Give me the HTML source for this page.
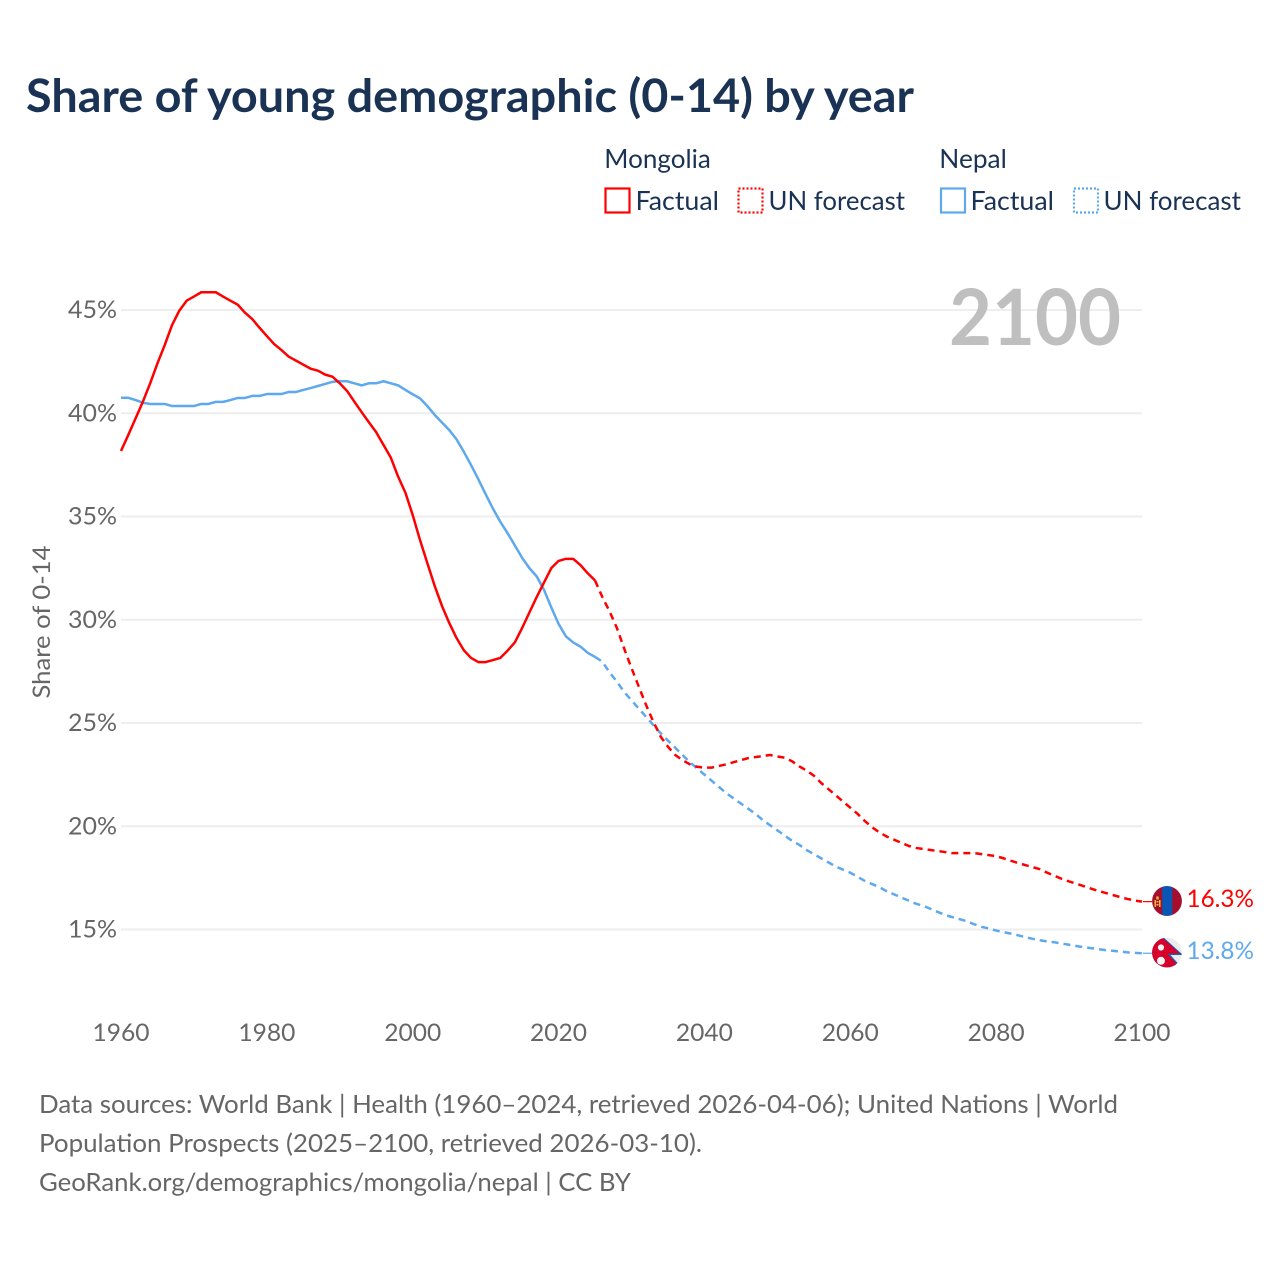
<!DOCTYPE html>
<html lang="en">
<head>
<meta charset="utf-8">
<title>Share of young demographic (0-14) by year</title>
<style>
html,body{margin:0;padding:0;background:#fff;width:1280px;height:1280px;overflow:hidden}
svg{display:block}
text{font-family:"Lato","Carlito","Liberation Sans",sans-serif}
</style>
</head>
<body>
<svg id="chart" xmlns="http://www.w3.org/2000/svg" width="1280" height="1280" viewBox="0 0 1280 1280">
  <rect width="1280" height="1280" fill="#fff"/>
  <text x="26" y="112" font-size="46" font-weight="700" fill="#1a3253" textLength="888" lengthAdjust="spacingAndGlyphs">Share of young demographic (0-14) by year</text>

  <g id="legend">
    <text x="604.3" y="168" font-size="26" fill="#1a3253" textLength="106.5" lengthAdjust="spacingAndGlyphs">Mongolia</text>
    <rect x="605.5" y="188.5" width="24" height="24" fill="none" stroke="#ff0000" stroke-width="2.2"/>
    <text x="635.5" y="210" font-size="26" fill="#1a3253" textLength="83.5" lengthAdjust="spacingAndGlyphs">Factual</text>
    <rect x="738.5" y="188.5" width="24" height="24" fill="none" stroke="#ff0000" stroke-width="2.2" stroke-dasharray="2 2"/>
    <text x="768.5" y="210" font-size="26" fill="#1a3253" textLength="136.5" lengthAdjust="spacingAndGlyphs">UN forecast</text>
    <text x="939.3" y="168" font-size="26" fill="#1a3253" textLength="67.5" lengthAdjust="spacingAndGlyphs">Nepal</text>
    <rect x="941" y="188.5" width="24" height="24" fill="none" stroke="#5ea8ee" stroke-width="2.2"/>
    <text x="970.5" y="210" font-size="26" fill="#1a3253" textLength="83.5" lengthAdjust="spacingAndGlyphs">Factual</text>
    <rect x="1074" y="188.5" width="24" height="24" fill="none" stroke="#5ea8ee" stroke-width="2.2" stroke-dasharray="2 2"/>
    <text x="1103.5" y="210" font-size="26" fill="#1a3253" textLength="137.5" lengthAdjust="spacingAndGlyphs">UN forecast</text>
  </g>

  <g id="grid"></g>
  <g id="yticks"></g>
  <g id="xticks"></g>

  <text x="949" y="345" font-size="78" font-weight="700" fill="#bfbfbf" textLength="172" lengthAdjust="spacingAndGlyphs">2100</text>
  <text transform="translate(50,622) rotate(-90)" text-anchor="middle" font-size="24" fill="#666666" textLength="153" lengthAdjust="spacingAndGlyphs">Share of 0-14</text>

  <g id="series"></g>

  <defs>
    <clipPath id="clip-mn"><circle cx="1167" cy="901" r="14.9"/></clipPath>
    <clipPath id="clip-np"><circle cx="1167" cy="952.5" r="14.9"/></clipPath>
  </defs>
  <g clip-path="url(#clip-mn)">
    <rect x="1150" y="885" width="34" height="32" fill="#a50e2d"/>
    <rect x="1162.2" y="885" width="10.1" height="32" fill="#0b55b5"/>
    <rect x="1154.5" y="900" width="1.5" height="7" fill="#f2c23a"/>
    <rect x="1159" y="900" width="1.5" height="7" fill="#f2c23a"/>
    <rect x="1156.5" y="901" width="2" height="1.5" fill="#f2c23a"/>
    <rect x="1156.5" y="904" width="2" height="1.5" fill="#f2c23a"/>
    <rect x="1156.3" y="896.5" width="2.4" height="3" fill="#f2c23a"/>
  </g>
  <g clip-path="url(#clip-np)">
    <rect x="1150" y="936" width="34" height="34" fill="#ececec"/>
    <polygon points="1150,936 1162,936 1183,955 1170.5,955 1182,968 1182,970 1150,970" fill="#1c5cb0"/>
    <polygon points="1150,936 1160.5,936 1180,953.6 1167.5,953.6 1180,967.8 1180,970 1150,970" fill="#d7002a"/>
    <circle cx="1161" cy="947.5" r="3.1" fill="#f5f5f5"/>
    <circle cx="1161" cy="960.8" r="4" fill="#f5f5f5"/>
  </g>

  <text x="1186.5" y="907" font-size="24.5" fill="#ff0000" textLength="67.5" lengthAdjust="spacingAndGlyphs">16.3%</text>
  <text x="1186.5" y="959" font-size="24.5" fill="#5ea8ee" textLength="67.5" lengthAdjust="spacingAndGlyphs">13.8%</text>

  <g font-size="25.5" fill="#666666">
    <text x="39" y="1113" textLength="1079" lengthAdjust="spacingAndGlyphs">Data sources: World Bank | Health (1960–2024, retrieved 2026-04-06); United Nations | World</text>
    <text x="39" y="1152" textLength="663" lengthAdjust="spacingAndGlyphs">Population Prospects (2025–2100, retrieved 2026-03-10).</text>
    <text x="39" y="1191" textLength="592" lengthAdjust="spacingAndGlyphs">GeoRank.org/demographics/mongolia/nepal | CC BY</text>
  </g>
</svg>
<script>
const yTickValues = [45, 40, 35, 30, 25, 20, 15];
const xTickYears = [1960, 1980, 2000, 2020, 2040, 2060, 2080, 2100];
const factualStartYear = 1960;
const forecastStartYear = 2025;

const mongoliaFactual = [
  38.17,38.95,39.75,40.56,41.45,42.42,43.31,44.27,44.97,45.45,
  45.65,45.86,45.86,45.86,45.65,45.45,45.26,44.87,44.56,44.14,
  43.74,43.35,43.06,42.74,42.55,42.35,42.16,42.06,41.87,41.77,
  41.45,41.08,40.56,40.05,39.56,39.08,38.46,37.85,36.93,36.15,
  35.07,33.86,32.75,31.65,30.68,29.85,29.12,28.53,28.15,27.95,
  27.95,28.05,28.15,28.5,28.9,29.6,30.35,31.1,31.8,32.5,
  32.85,32.95,32.95,32.65,32.25,31.9
];
const mongoliaForecast = [
  31.9,31.1,30.4,29.6,28.6,27.66,26.76,25.87,25.06,24.34,
  23.85,23.45,23.2,23.0,22.88,22.84,22.84,22.92,23.0,23.1,
  23.2,23.3,23.35,23.4,23.45,23.38,23.32,23.15,22.9,22.7,
  22.45,22.1,21.8,21.5,21.2,20.9,20.6,20.25,19.95,19.7,
  19.5,19.35,19.2,19.05,18.95,18.9,18.85,18.8,18.75,18.7,
  18.7,18.7,18.7,18.65,18.6,18.55,18.45,18.33,18.22,18.12,
  18.02,17.92,17.75,17.6,17.45,17.33,17.22,17.1,16.98,16.87,
  16.77,16.67,16.57,16.48,16.4,16.35
];
const nepalFactual = [
  40.75,40.75,40.64,40.51,40.45,40.45,40.45,40.35,40.35,40.35,
  40.35,40.45,40.45,40.55,40.55,40.64,40.74,40.74,40.84,40.84,
  40.93,40.93,40.93,41.03,41.03,41.13,41.22,41.32,41.42,41.52,
  41.55,41.55,41.45,41.35,41.45,41.45,41.55,41.45,41.35,41.13,
  40.92,40.72,40.35,39.93,39.56,39.19,38.74,38.14,37.49,36.8,
  36.08,35.38,34.75,34.2,33.6,33.0,32.5,32.1,31.45,30.6,
  29.8,29.2,28.9,28.7,28.4,28.2
];
const nepalForecast = [
  28.2,27.97,27.45,27.0,26.5,26.1,25.7,25.3,24.9,24.5,
  24.15,23.8,23.45,23.1,22.8,22.5,22.2,21.9,21.6,21.35,
  21.1,20.85,20.6,20.3,20.05,19.8,19.55,19.3,19.1,18.85,
  18.65,18.45,18.25,18.05,17.9,17.75,17.55,17.35,17.2,17.05,
  16.85,16.7,16.55,16.4,16.25,16.15,16.0,15.85,15.7,15.6,
  15.5,15.4,15.25,15.13,15.05,14.95,14.87,14.8,14.72,14.63,
  14.55,14.48,14.42,14.38,14.32,14.26,14.2,14.14,14.1,14.05,
  14.0,13.97,13.93,13.89,13.87,13.85
];

const NS = 'http://www.w3.org/2000/svg';
function xScale(year) { return 121 + (year - 1960) * (1142 - 121) / 140; }
function yScale(value) { return 310 + (45 - value) * 20.65; }

const gridGroup = document.getElementById('grid');
const yTickGroup = document.getElementById('yticks');
const xTickGroup = document.getElementById('xticks');
const seriesGroup = document.getElementById('series');

yTickValues.forEach(function (v) {
  const line = document.createElementNS(NS, 'line');
  line.setAttribute('x1', 121);
  line.setAttribute('x2', 1142);
  line.setAttribute('y1', yScale(v));
  line.setAttribute('y2', yScale(v));
  line.setAttribute('stroke', '#eeeeee');
  line.setAttribute('stroke-width', '2');
  
  
  gridGroup.appendChild(line);

  const label = document.createElementNS(NS, 'text');
  label.setAttribute('x', 117);
  label.setAttribute('y', yScale(v) + 8);
  label.setAttribute('text-anchor', 'end');
  label.setAttribute('font-size', '24');
  label.setAttribute('fill', '#666666');
  label.setAttribute('textLength', '49');
  label.setAttribute('lengthAdjust', 'spacingAndGlyphs');
  
  
  label.textContent = v + '%';
  yTickGroup.appendChild(label);
});

xTickYears.forEach(function (year) {
  const label = document.createElementNS(NS, 'text');
  label.setAttribute('x', xScale(year));
  label.setAttribute('y', 1041);
  label.setAttribute('text-anchor', 'middle');
  label.setAttribute('font-size', '24');
  label.setAttribute('fill', '#666666');
  label.setAttribute('textLength', '57');
  label.setAttribute('lengthAdjust', 'spacingAndGlyphs');
  
  
  label.textContent = year;
  xTickGroup.appendChild(label);
});

function pointsFor(values, startYear) {
  return values.map(function (v, i) {
    return xScale(startYear + i).toFixed(2) + ',' + yScale(v).toFixed(2);
  }).join(' ');
}

function drawSeries(values, startYear, color, dashed, name) {
  const line = document.createElementNS(NS, 'polyline');
  line.setAttribute('points', pointsFor(values, startYear));
  line.setAttribute('fill', 'none');
  line.setAttribute('stroke', color);
  line.setAttribute('stroke-width', '2.5');
  line.setAttribute('stroke-linejoin', 'round');
  if (dashed) {
    line.setAttribute('stroke-dasharray', '7 5');
  }
  
  
  seriesGroup.appendChild(line);
}

function drawLeader(values, color, name) {
  const endY = yScale(values[values.length - 1]);
  const leader = document.createElementNS(NS, 'line');
  leader.setAttribute('x1', 1143);
  leader.setAttribute('x2', 1152);
  leader.setAttribute('y1', endY);
  leader.setAttribute('y2', endY);
  leader.setAttribute('stroke', color);
  leader.setAttribute('stroke-width', '1.2');
  
  
  seriesGroup.appendChild(leader);
}

drawSeries(nepalFactual, factualStartYear, '#5ea8ee', false, 'nepal-factual-line');
drawSeries(nepalForecast, forecastStartYear, '#5ea8ee', true, 'nepal-forecast-line');
drawSeries(mongoliaFactual, factualStartYear, '#ff0000', false, 'mongolia-factual-line');
drawSeries(mongoliaForecast, forecastStartYear, '#ff0000', true, 'mongolia-forecast-line');
drawLeader(mongoliaForecast, '#ff0000', 'mongolia-flag-leader');
drawLeader(nepalForecast, '#5ea8ee', 'nepal-flag-leader');
</script>
</body>
</html>
